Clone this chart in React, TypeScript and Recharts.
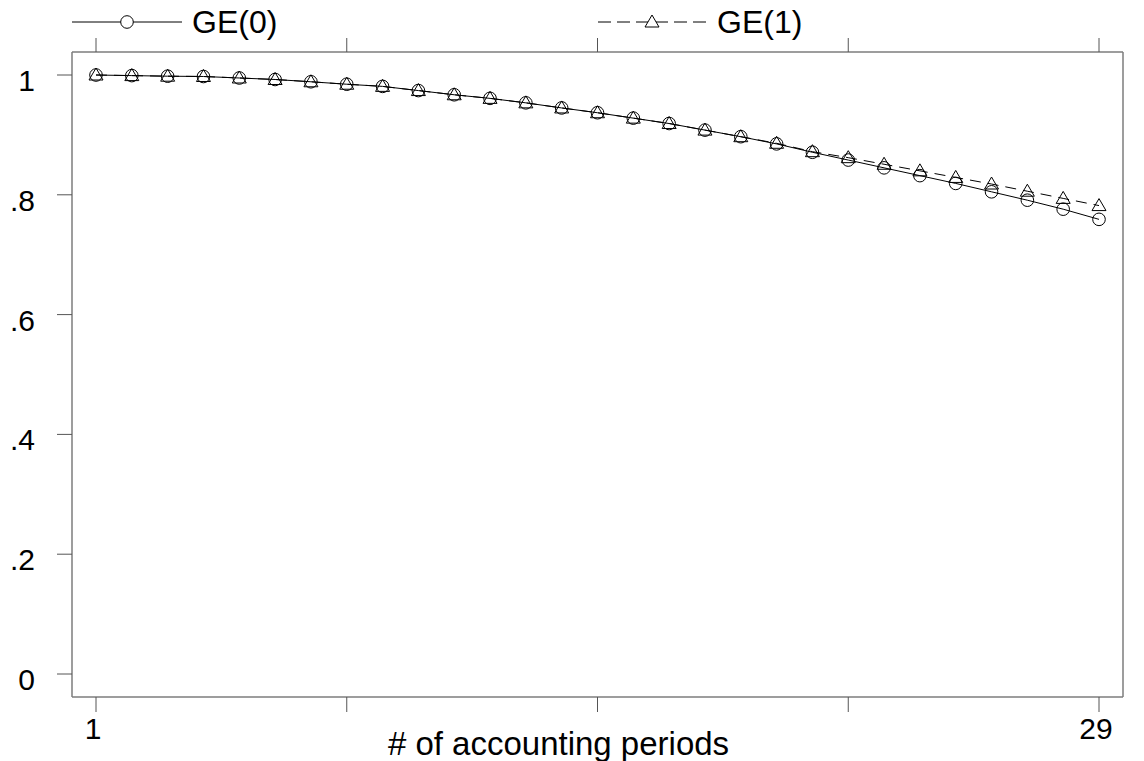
import React from "react";
import { LineChart, Line, XAxis, YAxis } from "recharts";

const periods = [1, 2, 3, 4, 5, 6, 7, 8, 9, 10, 11, 12, 13, 14, 15, 16, 17, 18, 19, 20, 21, 22, 23, 24, 25, 26, 27, 28, 29];
const ge0 = [1.0, 0.999, 0.998, 0.9975, 0.995, 0.9925, 0.9887, 0.9846, 0.981, 0.974, 0.967, 0.961, 0.9535, 0.945, 0.937, 0.928, 0.919, 0.908, 0.897, 0.885, 0.871, 0.858, 0.845, 0.832, 0.819, 0.805, 0.791, 0.776, 0.759];
const ge1 = [1.0, 0.999, 0.998, 0.9975, 0.995, 0.9925, 0.9887, 0.9846, 0.981, 0.974, 0.967, 0.961, 0.9535, 0.945, 0.937, 0.928, 0.919, 0.908, 0.897, 0.886, 0.872, 0.862, 0.851, 0.840, 0.829, 0.818, 0.806, 0.794, 0.782];
const xTicks = [1, 8, 15, 22, 29];
const xTickLabels = ["1", "", "", "", "29"];
const yTicks = [0, 0.2, 0.4, 0.6, 0.8, 1];
const yTickLabels = ["0", ".2", ".4", ".6", ".8", "1"];
const seriesNames = ["GE(0)", "GE(1)"];
const xTitle = "# of accounting periods";

const data = periods.map((p, i) => ({ period: p, ge0: ge0[i], ge1: ge1[i] }));

const FONT = "'Liberation Sans', Arial, Helvetica, sans-serif";
const AXIS_GREY = "#7c7c7c";
const TICK_GREY = "#555";

const CircleDot = (props: any) => {
  const { cx, cy } = props;
  if (cx == null || cy == null) return null;
  return <circle cx={cx} cy={cy} r={6.3} fill="none" stroke="#000" strokeWidth={1} />;
};

const TriangleDot = (props: any) => {
  const { cx, cy } = props;
  if (cx == null || cy == null) return null;
  const pts = `${cx},${cy - 7} ${cx - 7},${cy + 5} ${cx + 7},${cy + 5}`;
  return <polygon points={pts} fill="none" stroke="#000" strokeWidth={1} />;
};

const XTick = (props: any) => {
  const { x, y, payload } = props;
  const idx = xTicks.indexOf(payload.value);
  const label = idx >= 0 ? xTickLabels[idx] : "";
  if (!label) return <g />;
  return (
    <text x={x - 3} y={y + 25} textAnchor="middle" fontSize={30} fontFamily={FONT} fill="#000">
      {label}
    </text>
  );
};

const YTick = (props: any) => {
  const { x, y, payload } = props;
  const idx = yTicks.findIndex((t) => Math.abs(t - payload.value) < 1e-9);
  const label = idx >= 0 ? yTickLabels[idx] : "";
  return (
    <text x={x} y={y + 16} textAnchor="end" fontSize={30} fontFamily={FONT} fill="#000">
      {label}
    </text>
  );
};

const EmptyTick = () => <g />;

const XTitle = (props: any) => {
  const vb = props.viewBox || {};
  const cx = (vb.x ?? 0) + (vb.width ?? 0) / 2 - 39;
  const by = (vb.y ?? 0) + 58;
  return (
    <text x={cx} y={by} textAnchor="middle" fontSize={33} fontFamily={FONT} fill="#000">
      {xTitle}
    </text>
  );
};

const LegendOverlay = () => (
  <svg width={1144} height={46} style={{ position: "absolute", left: 0, top: 0 }}>
    <line x1={72} y1={22} x2={182} y2={22} stroke="#000" strokeWidth={1} />
    <circle cx={127} cy={22} r={6.3} fill="#fff" stroke="#000" strokeWidth={1} />
    <text x={192} y={33} fontSize={32} fontFamily={FONT} fill="#000">{seriesNames[0]}</text>
    <line x1={598} y1={22} x2={709} y2={22} stroke="#000" strokeWidth={1} strokeDasharray="13 6" />
    <polygon points={`652,15 645,27 659,27`} fill="#fff" stroke="#000" strokeWidth={1} />
    <text x={717} y={33} fontSize={32} fontFamily={FONT} fill="#000">{seriesNames[1]}</text>
  </svg>
);

export default function App() {
  return (
    <div style={{ position: "absolute", left: 0, top: 0, width: 1144, height: 761, background: "#fff" }}>
      <LineChart width={1144} height={761} data={data} margin={{ top: 0, right: 0, bottom: 0, left: 0 }}>
        <XAxis
          xAxisId="b"
          dataKey="period"
          type="number"
          domain={[1, 29]}
          ticks={xTicks}
          padding={{ left: 24, right: 24 }}
          height={64}
          tickSize={15}
          tickMargin={2}
          axisLine={{ stroke: AXIS_GREY, strokeWidth: 1.5 }}
          tickLine={{ stroke: TICK_GREY, strokeWidth: 1 }}
          tick={<XTick />}
          interval={0}
          label={<XTitle />}
        />
        <XAxis
          xAxisId="t"
          orientation="top"
          dataKey="period"
          type="number"
          domain={[1, 29]}
          ticks={xTicks}
          padding={{ left: 24, right: 24 }}
          height={52}
          tickSize={14}
          axisLine={{ stroke: AXIS_GREY, strokeWidth: 1.5 }}
          tickLine={{ stroke: TICK_GREY, strokeWidth: 1 }}
          tick={<EmptyTick />}
          interval={0}
        />
        <YAxis
          yAxisId="l"
          type="number"
          domain={[0, 1]}
          ticks={yTicks}
          padding={{ top: 23, bottom: 23 }}
          width={72}
          tickSize={15}
          tickMargin={22}
          axisLine={{ stroke: AXIS_GREY, strokeWidth: 1.5 }}
          tickLine={{ stroke: TICK_GREY, strokeWidth: 1 }}
          tick={<YTick />}
          interval={0}
        />
        <YAxis
          yAxisId="r"
          orientation="right"
          type="number"
          domain={[0, 1]}
          ticks={yTicks}
          padding={{ top: 23, bottom: 23 }}
          width={21}
          tickSize={14}
          axisLine={{ stroke: AXIS_GREY, strokeWidth: 1.5 }}
          tickLine={{ stroke: TICK_GREY, strokeWidth: 1 }}
          tick={<EmptyTick />}
          interval={0}
        />
        <Line
          xAxisId="b"
          yAxisId="l"
          type="linear"
          dataKey="ge0"
          name={seriesNames[0]}
          stroke="#000"
          strokeWidth={1}
          dot={<CircleDot />}
          activeDot={false}
          isAnimationActive={false}
        />
        <Line
          xAxisId="b"
          yAxisId="l"
          type="linear"
          dataKey="ge1"
          name={seriesNames[1]}
          stroke="#000"
          strokeWidth={1}
          strokeDasharray="11 7"
          dot={<TriangleDot />}
          activeDot={false}
          isAnimationActive={false}
        />
      </LineChart>
      <LegendOverlay />
    </div>
  );
}
